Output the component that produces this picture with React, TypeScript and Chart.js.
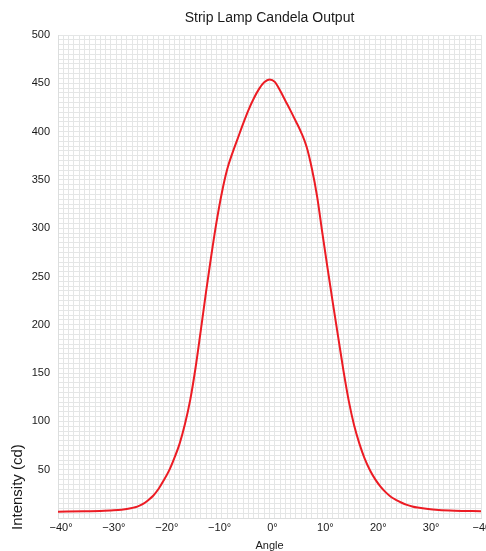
import React, { useEffect, useRef } from "react";
import { Chart, registerables } from "chart.js";

Chart.register(...registerables);

const angles = [
  -40, -35, -32, -30, -28, -26, -25, -24, -23, -22, -21, -20, -19, -18, -17, -16, -15, -14, -13, -12, -11, -10,
  -9, -8, -7, -6, -5, -4, -3, -2, -1, 0, 1, 2, 3, 4, 5, 6, 7, 8, 9, 10, 11, 12, 13, 14, 15, 16, 17, 18, 19, 20,
  21, 22, 23, 24, 25, 26, 27, 28, 30, 32, 35, 40,
];
const intensity = [
  6.5, 7, 7.2, 7.8, 8.6, 10.4, 11.8, 14.3, 18.2, 23, 30, 39, 49, 62, 77, 97, 122, 155, 194, 234, 272, 307,
  337, 361, 378, 393, 408, 422, 434, 444, 451, 454, 451.5, 442.5, 432, 421.5, 410.5, 399, 384.5, 362, 333, 295, 258, 222, 187, 152,
  121, 96, 77, 61.5, 49.5, 40, 32.5, 26.5, 21.8, 18.5, 15.8, 13.6, 12, 10.8, 9.2, 8.3, 7.6, 7,
];

const titleText = "Strip Lamp Candela Output";
const xTitle = "Angle";
const yTitle = "Intensity (cd)";
const xMin = -40;
const xMax = 40;
const yMin = 0;
const yMax = 500;
const xLabelEvery = 10;
const yLabelEvery = 50;

const FONT = "'Liberation Sans', Arial, Helvetica, sans-serif";

function fmtAngle(v: number): string {
  const r = Math.round(v);
  if (r === xMax) return "\u221240\u00b0";
  if (r < 0) return "\u2212" + Math.abs(r) + "\u00b0";
  return r + "\u00b0";
}

export default function App() {
  const ref = useRef<HTMLCanvasElement | null>(null);

  useEffect(() => {
    if (!ref.current) return;
    const yTitlePlugin = {
      id: "yTitlePlugin",
      afterDraw(chart: any) {
        const { ctx, chartArea } = chart;
        ctx.save();
        ctx.translate(chartArea.left - 40, chartArea.bottom + 12);
        ctx.rotate(-Math.PI / 2);
        ctx.font = `15px ${FONT}`;
        ctx.fillStyle = "#1a1a1a";
        ctx.textAlign = "left";
        ctx.textBaseline = "middle";
        ctx.fillText(yTitle, 0, 0);
        ctx.restore();
      },
    };
    const chart = new Chart(ref.current, {
      type: "line",
      data: {
        datasets: [
          {
            data: angles.map((a, i) => ({ x: a, y: intensity[i] })),
            borderColor: "#ec1c24",
            borderWidth: 2,
            pointRadius: 0,
            fill: false,
            cubicInterpolationMode: "monotone",
          },
        ],
      },
      options: {
        animation: false,
        responsive: false,
        maintainAspectRatio: false,
        layout: { padding: { left: 0, right: 5, top: 0, bottom: 0 } },
        plugins: {
          legend: { display: false },
          tooltip: { enabled: false },
          title: {
            display: true,
            text: titleText,
            fullSize: false,
            color: "#1a1a1a",
            font: { family: FONT, size: 14, weight: "normal" },
            padding: { top: 9.6, bottom: 8.6 },
          },
        },
        scales: {
          x: {
            type: "linear",
            min: xMin,
            max: xMax,
            border: { display: true, color: "#dcdede", width: 1 },
            grid: { color: "#e4e6e6", lineWidth: 1, drawTicks: false },
            ticks: {
              stepSize: 1,
              autoSkip: false,
              maxRotation: 0,
              minRotation: 0,
              maxTicksLimit: 200,
              padding: 3.5,
              labelOffset: 3,
              color: "#1a1a1a",
              font: { family: FONT, size: 11 },
              callback: (v: any) => (Math.round(v) % xLabelEvery === 0 ? fmtAngle(Number(v)) : ""),
            },
            title: {
              display: true,
              text: xTitle,
              color: "#1a1a1a",
              font: { family: FONT, size: 11 },
              padding: { top: 0, bottom: -1.5 },
            },
            afterFit: (scale: any) => {
              scale.height = 33;
              scale.paddingLeft = 0;
              scale.paddingRight = 0;
            },
          },
          y: {
            type: "linear",
            min: yMin,
            max: yMax,
            border: { display: true, color: "#dcdede", width: 1 },
            grid: { color: "#e4e6e6", lineWidth: 1, drawTicks: false },
            ticks: {
              stepSize: 5,
              autoSkip: false,
              maxTicksLimit: 200,
              padding: 8,
              color: "#1a1a1a",
              font: { family: FONT, size: 11 },
              callback: (v: any) => {
                const n = Math.round(Number(v));
                return n !== 0 && n % yLabelEvery === 0 ? String(n) : "";
              },
            },
            afterFit: (scale: any) => {
              scale.width = 58;
              scale.paddingTop = 0;
              scale.paddingBottom = 0;
            },
          },
        },
      },
      plugins: [yTitlePlugin],
    } as any);
    return () => chart.destroy();
  }, []);

  return (
    <div style={{ position: "fixed", left: 0, top: 0, width: 486, height: 551, background: "#fff" }}>
      <canvas ref={ref} width={486} height={551} style={{ width: 486, height: 551, display: "block" }} />
    </div>
  );
}
